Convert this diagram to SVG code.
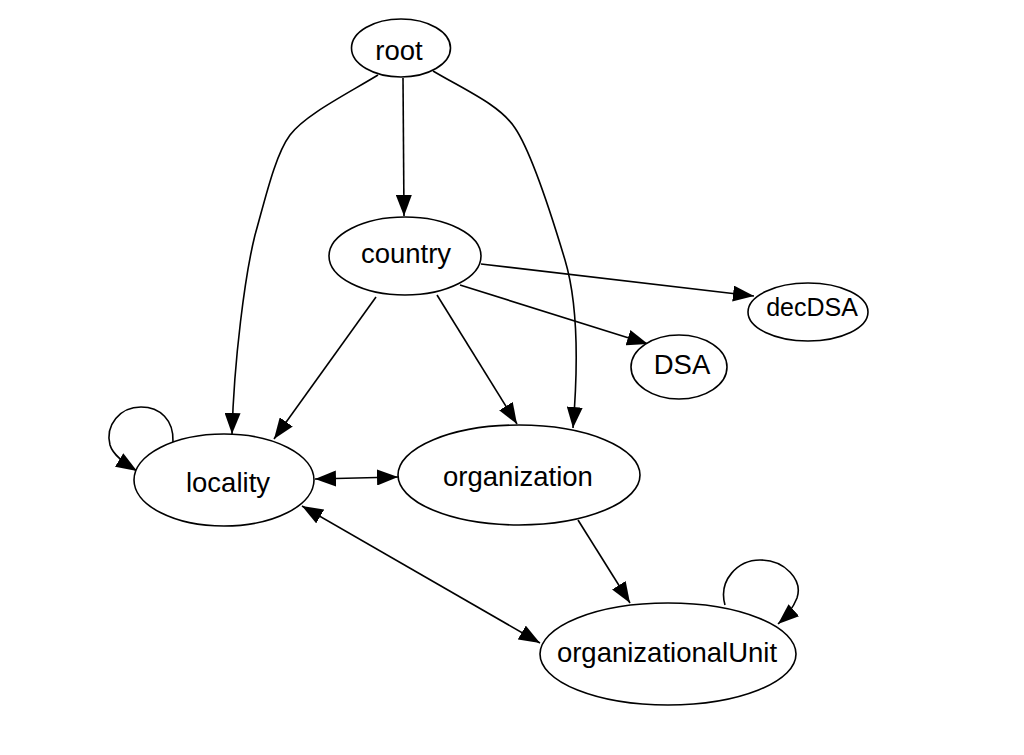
<svg xmlns="http://www.w3.org/2000/svg" width="1024" height="755" viewBox="0 0 1024 755">
<style>
.node ellipse{fill:#fff;stroke:#000;stroke-width:1.6}
.node text{font-family:"Liberation Sans",Arial,sans-serif;font-size:27.5px;text-anchor:middle;fill:#000}
.edges path{fill:none;stroke:#000;stroke-width:1.6}
.a{marker-end:url(#ah)}
.b{marker-end:url(#ah);marker-start:url(#ahs)}
</style>
<defs>
<marker id="ah" markerUnits="userSpaceOnUse" viewBox="0 0 21 16" markerWidth="21" markerHeight="16" refX="21" refY="8" orient="auto"><path d="M0,0 L21,8 L0,16 z" fill="#000"/></marker>
<marker id="ahs" markerUnits="userSpaceOnUse" viewBox="0 0 21 16" markerWidth="21" markerHeight="16" refX="21" refY="8" orient="auto-start-reverse"><path d="M0,0 L21,8 L0,16 z" fill="#000"/></marker>
</defs>
<rect width="1024" height="755" fill="#fff"/>
<g class="edges" id="edges">
<path class="a" d="M403,78 L404,216"/>
<path class="a" d="M378,75 C345,95 305,115 290,135 C275,155 265,200 255,235 C245,275 234,360 232,434"/>
<path class="a" d="M433,71 C465,90 500,105 515,128 C530,150 550,210 565,260 C580,310 577,380 573,428"/>
<path class="a" d="M376,297 L274,439"/>
<path class="a" d="M437,295 L517,424"/>
<path class="a" d="M481,264 L754,296"/>
<path class="a" d="M460,285 L648,344"/>
<path class="b" d="M315,479 L398,477"/>
<path class="b" d="M302,506 L540,643"/>
<path class="a" d="M578,520 L630,603"/>
<path class="a" d="M173,442 C174,420 160,407 141,407 C120,407 105,425 110,445 C113,455 124,463 137,471"/>
<path class="a" d="M725,605 C718,580 738,560 760,560 C785,560 803,580 797,598 C793,608 786,617 778,624"/>
</g>
<g class="node" id="root"><ellipse cx="401" cy="48" rx="49.5" ry="29"/><text x="399" y="60">root</text></g>
<g class="node" id="country"><ellipse cx="405" cy="256" rx="76" ry="39"/><text x="406" y="263">country</text></g>
<g class="node" id="decDSA"><ellipse cx="808" cy="312" rx="60" ry="29"/><text x="812" y="316" style="font-size:25px">decDSA</text></g>
<g class="node" id="DSA"><ellipse cx="679" cy="367" rx="48" ry="32"/><text x="682" y="374">DSA</text></g>
<g class="node" id="locality"><ellipse cx="224" cy="480" rx="90" ry="46"/><text x="228" y="492">locality</text></g>
<g class="node" id="organization"><ellipse cx="519" cy="475" rx="121" ry="50"/><text x="518" y="486">organization</text></g>
<g class="node" id="organizationalUnit"><ellipse cx="668" cy="654" rx="128" ry="51"/><text x="667" y="662">organizationalUnit</text></g>
</svg>
